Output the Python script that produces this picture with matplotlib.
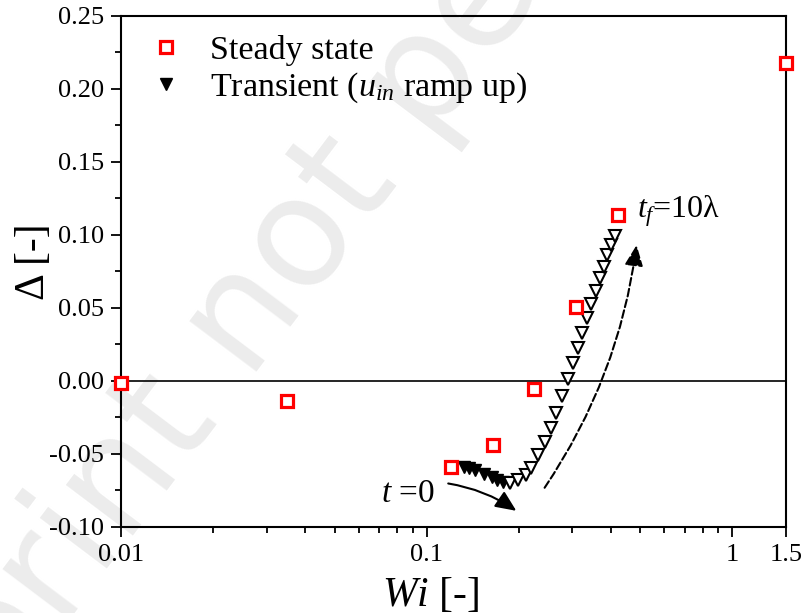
import matplotlib
matplotlib.use("Agg")
import matplotlib.pyplot as plt
from matplotlib.patches import FancyArrowPatch
from matplotlib.ticker import FixedLocator, LogLocator, NullFormatter, MultipleLocator, FormatStrFormatter

plt.rcParams['font.family'] = ['Liberation Serif', 'DejaVu Serif']
plt.rcParams['mathtext.fontset'] = 'custom'
plt.rcParams['mathtext.rm'] = 'Liberation Serif'
plt.rcParams['mathtext.it'] = 'Liberation Serif:italic'

# Steady state
ss_wi = [0.01, 0.035, 0.1206, 0.165, 0.225, 0.308, 0.422, 1.5]
ss_delta = [-0.0015, -0.0137, -0.059, -0.0438, -0.0055, 0.0507, 0.1137, 0.2178]

# Transient (filled part)
tr_fill_wi = [0.1330, 0.1380, 0.1444, 0.1545, 0.1641, 0.1703, 0.1781]
tr_fill_delta = [-0.0589, -0.0596, -0.0610, -0.0637, -0.0658, -0.0678, -0.0692]

# Transient (open part)
tr_open_wi = [0.1878, 0.1993, 0.2117, 0.2198, 0.2317, 0.2441, 0.2554, 0.2652, 0.2773,
              0.2901, 0.3011, 0.3127, 0.3222, 0.3345, 0.3447, 0.3578, 0.3688, 0.3800,
              0.3887, 0.4005, 0.4127]
tr_open_delta = [-0.0699, -0.0678, -0.0644, -0.0596, -0.0507, -0.0418, -0.0322, -0.0219,
                 -0.0103, 0.0014, 0.0123, 0.0226, 0.0329, 0.0432, 0.0527, 0.0616, 0.0705,
                 0.0781, 0.0863, 0.0932, 0.0993]

fig = plt.figure(figsize=(8.03, 6.13), dpi=100)
ax = fig.add_axes([0.1507, 0.1403, 0.9788 - 0.1507, 0.9739 - 0.1403])

# watermark
fig.text(0.545, 0.90, "Preprint not peer reviewed", fontsize=110, color='#ececec',
         rotation=53, ha='center', va='center', zorder=-5, family='DejaVu Sans')
ax.patch.set_alpha(0)

ax.axhline(0, color='black', lw=1.2, zorder=1)

ax.plot(tr_fill_wi, tr_fill_delta, linestyle='none', marker='v', ms=8.5,
        mfc='black', mec='black', mew=1.0, zorder=3, label='Transient ($u_{in}$ ramp up)')
ax.plot(tr_open_wi, tr_open_delta, linestyle='none', marker='v', ms=8.5,
        mfc='white', mec='black', mew=1.5, zorder=3)
ax.plot(ss_wi, ss_delta, linestyle='none', marker='s', ms=8,
        mfc='white', mec='#ff0000', mew=2.3, zorder=4, label='Steady state', clip_on=False)

ax.set_xscale('log')
ax.set_xlim(0.01, 1.5)
ax.set_ylim(-0.10, 0.25)
ax.xaxis.set_major_locator(FixedLocator([0.01, 0.1, 1, 1.5]))
ax.set_xticklabels(['0.01', '0.1', '1', '1.5'])
ax.xaxis.set_minor_locator(LogLocator(base=10, subs=range(2, 10), numticks=20))
ax.xaxis.set_minor_formatter(NullFormatter())
ax.yaxis.set_major_locator(MultipleLocator(0.05))
ax.yaxis.set_minor_locator(MultipleLocator(0.025))
ax.yaxis.set_major_formatter(FormatStrFormatter('%.2f'))

ax.tick_params(which='both', direction='out', top=False, right=False, width=1.3, labelsize=19)
ax.tick_params(which='major', length=7, pad=5)
ax.tick_params(which='minor', length=4)
for s in ax.spines.values():
    s.set_linewidth(1.5)

ax.set_xlabel('$Wi$ [-]', fontsize=30)
ax.xaxis.set_label_coords(0.465, -0.095)
ax.set_ylabel('Δ [-]', fontsize=30)
ax.yaxis.set_label_coords(-0.103, 0.52)

h, l = ax.get_legend_handles_labels()
ax.legend([h[1], h[0]], [l[1], l[0]], loc='upper left', frameon=False, fontsize=24.5,
          bbox_to_anchor=(-0.03, 1.022), handletextpad=0.3, labelspacing=0.12,
          handlelength=2.0)

# annotations
ax.text(0.0867, -0.0774, '$t$ =0', fontsize=24, ha='center', va='center')
ax.text(0.667, 0.116, '$t_f$=10λ', fontsize=23, ha='center', va='center')

arr1 = FancyArrowPatch((0.1153, -0.0699), (0.200, -0.0900), connectionstyle='arc3,rad=-0.12',
                       arrowstyle='-|>,head_length=9,head_width=4', color='black', lw=1.5,
                       mutation_scale=1.4)
ax.add_patch(arr1)
arr2 = FancyArrowPatch((0.2405, -0.0747), (0.488, 0.0950), connectionstyle='arc3,rad=0.12',
                       arrowstyle='-|>,head_length=9,head_width=4', color='black', lw=1.5,
                       linestyle='--', mutation_scale=1.4)
ax.add_patch(arr2)

fig.savefig('out.png', dpi=100)
